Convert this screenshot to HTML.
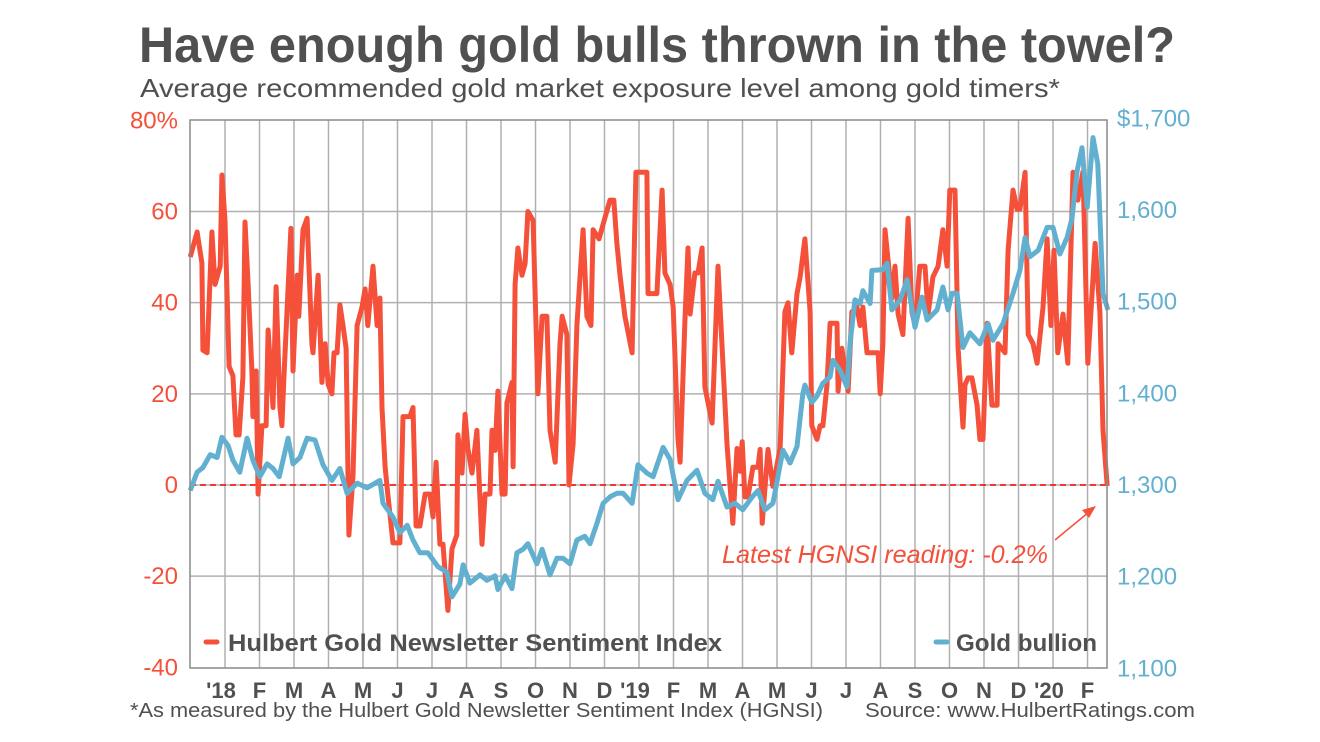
<!DOCTYPE html>
<html><head><meta charset="utf-8"><style>
html,body{margin:0;padding:0;background:#fff;}
svg{display:block;font-family:"Liberation Sans",sans-serif;}
</style></head><body>
<svg id="chart" width="1320" height="742" viewBox="0 0 1320 742">
<text x="139" y="62" font-size="50" font-weight="bold" fill="#505050" textLength="1036" lengthAdjust="spacingAndGlyphs">Have enough gold bulls thrown in the towel?</text>
<text x="140" y="97" font-size="26" fill="#505050" textLength="920" lengthAdjust="spacingAndGlyphs">Average recommended gold market exposure level among gold timers*</text>
<g id="grid"></g>
<g id="series"></g>
<g id="axes"></g>
<g>
<line x1="206" y1="642" x2="217" y2="642" stroke="#f4503a" stroke-width="5" stroke-linecap="round"/>
<text x="228" y="651" font-size="24" font-weight="bold" fill="#505050" textLength="494" lengthAdjust="spacingAndGlyphs">Hulbert Gold Newsletter Sentiment Index</text>
<line x1="936" y1="642" x2="947" y2="642" stroke="#62b0d0" stroke-width="5" stroke-linecap="round"/>
<text x="956" y="651" font-size="24" font-weight="bold" fill="#505050" textLength="141" lengthAdjust="spacingAndGlyphs">Gold bullion</text>
</g>
<g>
<text x="722" y="563" font-size="25" font-style="italic" fill="#f4503a" textLength="326" lengthAdjust="spacingAndGlyphs">Latest HGNSI reading: -0.2%</text>
<line x1="1055" y1="540" x2="1089" y2="512" stroke="#f4503a" stroke-width="1.5"/>
<polygon points="1096,506 1082,510 1089,518" fill="#f4503a"/>
</g>
<text x="130" y="717" font-size="20" fill="#505050" textLength="693" lengthAdjust="spacingAndGlyphs">*As measured by the Hulbert Gold Newsletter Sentiment Index (HGNSI)</text>
<text x="865" y="717" font-size="20" fill="#505050" textLength="330" lengthAdjust="spacingAndGlyphs">Source: www.HulbertRatings.com</text>
</svg>
<script>
// time in months since Jan 1 2018
const hgT=[-1.01,-0.81,-0.67,-0.64,-0.52,-0.38,-0.29,-0.14,-0.09,0,0.12,0.23,0.32,0.41,0.52,0.58,0.67,0.78,0.81,0.90,0.96,1.07,1.19,1.25,1.39,1.48,1.59,1.65,1.71,1.91,1.97,2.09,2.14,2.26,2.38,2.52,2.55,2.70,2.81,2.90,2.99,3.10,3.16,3.25,3.33,3.42,3.51,3.59,3.71,3.83,3.97,4.06,4.14,4.29,4.41,4.49,4.55,4.64,4.72,4.87,5.07,5.16,5.36,5.45,5.54,5.65,5.80,5.94,6.03,6.12,6.23,6.32,6.46,6.58,6.72,6.75,6.87,6.96,7.04,7.16,7.30,7.45,7.54,7.68,7.74,7.83,7.91,8.03,8.12,8.17,8.32,8.35,8.41,8.49,8.61,8.70,8.78,8.93,9.07,9.19,9.33,9.42,9.57,9.71,9.77,9.91,9.97,10.09,10.20,10.38,10.49,10.61,10.67,10.84,11.01,11.16,11.27,11.36,11.45,11.59,11.80,11.91,12.03,12.23,12.26,12.52,12.67,12.75,12.90,12.99,13.13,13.19,13.33,13.42,13.48,13.62,13.71,13.83,13.91,14.12,14.29,14.55,14.72,14.84,14.93,14.99,15.07,15.16,15.30,15.45,15.51,15.57,15.74,15.88,16.09,16.23,16.32,16.43,16.58,16.67,16.81,16.96,17.01,17.16,17.25,17.33,17.45,17.54,17.74,17.77,17.88,18.06,18.17,18.32,18.41,18.49,18.61,18.93,18.99,19.07,19.13,19.33,19.42,19.51,19.65,19.80,19.91,20.00,20.14,20.29,20.38,20.52,20.67,20.81,20.93,21.01,21.16,21.25,21.39,21.45,21.54,21.65,21.80,21.88,21.97,22.09,22.23,22.38,22.41,22.61,22.70,22.84,22.96,23.04,23.19,23.28,23.42,23.54,23.71,23.83,23.94,24.03,24.14,24.29,24.43,24.58,24.72,24.87,25.01,25.22,25.36,25.45,25.57];
const hgV=[50,55.5,48.7,29.6,29,55.5,44,48,68,58,26,24,11,11,23.7,57.7,44,25,15,25,-2,13,13,34,17,43.5,17,13,24,56.3,25,46,37,56,58.5,31,29,46,22.5,31,22,20,29,29,39.5,35,30,-11,2,35,39,43,35,48,35,41,17,4,-2,-12.7,-12.7,15,15,17,-9,-9,-2,-2,-7,5,-13,-13,-27.5,-14,-11,11,2.6,15.5,8,2.6,12,-13,-2,-2,12,7.6,20.6,-2,-2,18,22.5,4,44,52,46,48.6,60,58,20,37,37,12,5,31,37,33,0,9,35,56,37,35,56,54,58.5,62.5,62.5,53,46,37,29,68.6,68.6,68.6,42,42,64.7,46.5,44,39,10,5,36,52,37.5,46.5,46.5,52,21.5,13.6,48,9,-8.4,8,3,9.5,-2.6,-2.6,3.9,3.9,7.8,-8.4,7.8,-0.3,8,38,40,29,42,45.6,54,38,13,10,13,13,22,35.5,35.5,20.6,30,20.6,38,39,35,39,29,29,20,31,56,41,48,37.5,33,58.5,38,35,48,48,37.5,45.6,48,56,48,64.7,64.7,30,12.7,22,23.5,23.5,17.5,10,10,35.5,17.5,17.5,31,29,51.5,64.7,60.5,60.5,68.6,33,31,26.7,39,54,35,51.5,29,37.5,26.7,68.6,62.5,68.8,26.7,53,38,12,-0.2];
const goldT=[-1.01,-0.81,-0.64,-0.43,-0.23,-0.09,0.09,0.23,0.43,0.64,0.81,1.01,1.22,1.39,1.57,1.83,1.97,2.17,2.38,2.61,2.84,3.10,3.33,3.54,3.83,4.12,4.49,4.58,4.87,5.07,5.28,5.45,5.65,5.88,6.17,6.43,6.58,6.81,6.90,7.10,7.39,7.59,7.83,7.91,8.12,8.32,8.46,8.64,8.78,9.04,9.19,9.42,9.62,9.80,10.00,10.20,10.43,10.58,10.78,10.96,11.16,11.36,11.54,11.80,11.97,12.03,12.23,12.41,12.70,12.90,13.13,13.39,13.68,13.91,14.14,14.29,14.55,14.78,15.01,15.28,15.45,15.65,15.88,16.17,16.38,16.58,16.75,16.81,17.01,17.16,17.33,17.54,17.62,17.83,18.03,18.12,18.26,18.41,18.49,18.70,18.75,19.07,19.19,19.33,19.57,19.77,20.00,20.20,20.35,20.64,20.81,20.96,21.07,21.22,21.39,21.59,21.88,22.12,22.26,22.55,22.84,23.04,23.19,23.33,23.57,23.83,24.00,24.20,24.41,24.55,24.70,24.84,24.99,25.16,25.30,25.45,25.59];
const goldV=[1294,1314,1319,1333,1330,1352,1343,1327,1314,1351,1327,1309,1323,1318,1309,1351,1323,1330,1351,1349,1322,1305,1318,1291,1302,1297,1305,1280,1265,1248,1256,1240,1226,1226,1211,1205,1178,1192,1213,1193,1202,1196,1201,1186,1201,1187,1226,1230,1236,1214,1230,1202,1220,1220,1214,1240,1244,1236,1258,1280,1287,1291,1291,1280,1322,1320,1313,1309,1341,1328,1284,1305,1316,1291,1284,1304,1276,1280,1273,1287,1294,1273,1280,1338,1324,1342,1400,1409,1390,1397,1411,1418,1436,1425,1407,1455,1502,1498,1512,1498,1534,1535,1542,1491,1502,1524,1472,1505,1480,1491,1516,1491,1509,1509,1450,1466,1454,1476,1458,1476,1509,1534,1570,1549,1556,1581,1581,1552,1570,1591,1643,1668,1603,1679,1650,1509,1491];
const monthLabels=["'18","F","M","A","M","J","J","A","S","O","N","D","'19","F","M","A","M","J","J","A","S","O","N","D","'20","F"];
const leftTicks=[80,60,40,20,0,-20,-40];
const leftTickLabels=["80%","60","40","20","0","-20","-40"];
const rightTicks=[1700,1600,1500,1400,1300,1200,1100];
const rightTickLabels=["$1,700","1,600","1,500","1,400","1,300","1,200","1,100"];

const PL=190,PR=1107,PT=120,PB=668;
const xS=t=>225+34.5*t;
const yL=v=>485-v*4.5583;
const yR=g=>485-(g-1300)*0.9167;
const NS="http://www.w3.org/2000/svg";
function mk(tag,attrs,parent){const e=document.createElementNS(NS,tag);for(const k in attrs)e.setAttribute(k,attrs[k]);parent.appendChild(e);return e;}
const grid=document.getElementById('grid'),series=document.getElementById('series'),axes=document.getElementById('axes');

leftTicks.forEach((v,i)=>{
  if(i>0&&i<leftTicks.length-1){const l=mk('line',{x1:PL,x2:PR,y1:yL(v),y2:yL(v),stroke:'#b0b0b0','stroke-width':1.5},grid);
  
  }
  const t=mk('text',{x:178,y:yL(v)+8,'font-size':24,fill:'#f4503a','text-anchor':'end'},axes);
  t.textContent=leftTickLabels[i];
  
  
});
rightTicks.forEach((g,i)=>{
  const t=mk('text',{x:1117,y:yR(g)+8,'font-size':24,fill:'#62b0d0'},axes);
  t.textContent=rightTickLabels[i];
  
  
});
monthLabels.forEach((m,i)=>{
  const x=xS(i);
  const l=mk('line',{x1:x,x2:x,y1:PT,y2:PB,stroke:'#b0b0b0','stroke-width':1.5},grid);
  
  
  const t=mk('text',{x:x-(m.length>1?4:0),y:698,'font-size':22,'font-weight':'bold',fill:'#505050','text-anchor':'middle'},axes);
  t.textContent=m;
  
  
});
const frame=mk('path',{d:`M${PL},${PB} L${PL},${PT} L${PR},${PT} L${PR},${PB} Z`,fill:'none',stroke:'#8a8a8a','stroke-width':1.5},axes);


const zero=mk('line',{x1:PL,x2:PR,y1:yL(0),y2:yL(0),stroke:'#f00','stroke-width':1.5,'stroke-dasharray':'6,4'},series);


const hp=mk('polyline',{points:hgT.map((t,i)=>xS(t).toFixed(1)+','+yL(hgV[i]).toFixed(1)).join(' '),fill:'none',stroke:'#f4503a','stroke-width':5,'stroke-linejoin':'round'},series);


const gp=mk('polyline',{points:goldT.map((t,i)=>xS(t).toFixed(1)+','+yR(goldV[i]).toFixed(1)).join(' '),fill:'none',stroke:'#62b0d0','stroke-width':5,'stroke-linejoin':'round'},series);


</script>
</body></html>
